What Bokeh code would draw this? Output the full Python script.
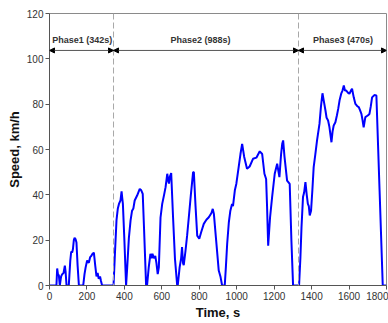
from bokeh.plotting import figure
from bokeh.models import Range1d, Span, Arrow, NormalHead, ColumnDataSource, FixedTicker
from bokeh.core.properties import value
from bokeh.embed import file_html
from bokeh.resources import INLINE

# ---- data ----
time_s = [0, 37, 41, 45, 50, 55, 62, 68, 75, 82, 86, 91, 98, 103, 111, 116, 121, 125, 130, 134,
          139, 144, 150, 157, 180, 187, 193, 201, 210, 217, 223, 230, 237, 244, 251, 257, 263,
          270, 275, 281, 342,
          350, 358, 365, 371, 379, 385, 388, 392, 400, 409,
          415, 424, 433, 441, 448, 455, 468, 482, 490, 498, 505, 516,
          521, 530, 539, 545, 550, 557, 565, 571, 578, 584, 593, 602, 612, 620, 629, 635, 638,
          643, 650, 660, 670, 682,
          685, 695, 703, 708, 713, 717, 726, 735, 744, 755, 767, 771, 780, 789, 800, 810, 824,
          838, 851, 865, 872, 878, 890, 904, 913, 922, 936, 942, 949, 958, 966, 975, 980, 990,
          998, 1010, 1020, 1029, 1040, 1055, 1069, 1087, 1105, 1123, 1136, 1148, 1157, 1162,
          1168, 1178, 1189, 1203, 1216, 1228, 1237, 1243, 1248, 1255, 1269, 1283, 1292, 1301,
          1333, 1340, 1346, 1354, 1360, 1367, 1374, 1380, 1385, 1390, 1397, 1404, 1411, 1420,
          1429, 1442, 1450, 1458, 1466, 1474, 1480, 1488, 1495, 1506, 1512, 1518, 1527, 1535,
          1542, 1550, 1558, 1565, 1572, 1578, 1585, 1595, 1602, 1610, 1616, 1625, 1634, 1645,
          1652, 1660, 1666, 1672, 1678, 1687, 1700, 1709, 1716, 1723, 1735, 1746, 1763, 1780,
          1800]
speed_kmh = [0, 0, 7.5, 5, 4.5, 0, 4, 5, 5.5, 8.8, 6, 0, 0, 0, 11, 15, 14.5, 16, 20, 21,
             20.5, 19, 9, 0, 0, 5, 8, 11, 10, 12.5, 13, 14, 14.5, 9, 4, 5.5, 3,
             4, 2, 0, 0,
             15, 29, 34, 36, 37.5, 41.5, 39, 36, 20, 0,
             8, 21, 28.7, 33, 34, 37.5, 39.7, 42.6, 42, 40.4, 25, 0,
             0, 8, 14, 12, 14, 12, 13, 10, 5, 8, 30, 36, 40, 43.4, 49.3, 46, 45,
             48, 49.6, 30, 12, 0,
             0, 8, 12, 17, 10, 9, 15, 22, 30, 40, 50, 50, 35, 22, 20.6, 23.5, 27.2,
             29, 30.1, 32, 33.8, 31.6, 20, 6.6, 4, 0, 0, 8, 18.4, 28, 33, 36, 35, 42,
             44.9, 52, 58, 62.5, 56.7, 51.5, 52.5, 55.9, 56.4, 59.2, 58, 49.3, 47, 35,
             17.6, 30, 39, 49.3, 53.7, 47.8, 58, 62.5, 64, 57, 46.3, 44.8, 20, 0,
             0, 12, 25.7, 39, 41, 45.6, 40, 36, 35, 30.9, 33, 42, 52.2, 58,
             64, 71.3, 79, 84.8, 81, 77.2, 74, 72.8, 70, 63.2, 68, 70.6, 72, 75,
             77.9, 82, 84.6, 86, 88.2, 86, 86, 85, 84.6, 86, 86.8, 83, 80.1, 79,
             78.7, 77, 75.7, 73, 69.8, 74.3, 75, 75.7, 79, 83, 84, 83.8, 42, 0,
             0]
phase_edges = [0, 342, 1330, 1800]
phase_labels = ["Phase1 (342s)", "Phase2 (988s)", "Phase3 (470s)"]
phase_label_x = [175, 806, 1568]
x_ticks = [0, 200, 400, 600, 800, 1000, 1200, 1400, 1600, 1800]
y_ticks = [0, 20, 40, 60, 80, 100, 120]

FONT = "Liberation Sans"

p = figure(width=388, height=323, output_backend="svg", toolbar_location=None,
           x_range=Range1d(0, 1800), y_range=Range1d(0, 120),
           min_border_left=49, min_border_right=2, min_border_top=13, min_border_bottom=38)
p.grid.visible = False
p.outline_line_color = "#8a8a8a"
p.outline_line_width = 1
p.background_fill_color = "white"
p.border_fill_color = "white"

# phase boundaries
for edge in phase_edges[1:-1]:
    p.add_layout(Span(location=edge, dimension="height", line_color="#a8a8a8",
                      line_dash="6 3", line_width=1))

# speed trace
p.line(time_s, speed_kmh, line_color="#0000ff", line_width=2)

# arrows for phases
arrow_y = 103.7
for i in range(len(phase_labels)):
    p.add_layout(Arrow(start=NormalHead(size=5, fill_color="black", line_color="black"),
                       end=NormalHead(size=5, fill_color="black", line_color="black"),
                       x_start=phase_edges[i], x_end=phase_edges[i + 1],
                       y_start=arrow_y, y_end=arrow_y, line_color="#555555", line_width=1))

src = ColumnDataSource(dict(x=phase_label_x, y=[108.3] * 3, t=phase_labels))
p.text(x="x", y="y", text="t", source=src, text_align="center", text_baseline="middle",
       text_font=value(FONT), text_font_size="9px", text_color="#333333", text_font_style="bold")

# axes
for ax in (p.xaxis, p.yaxis):
    ax.axis_line_color = "#555555"
    ax.major_tick_line_color = "#555555"
    ax.minor_tick_line_color = None
    ax.major_tick_in = 0
    ax.major_tick_out = 4
    ax.major_label_text_font = FONT
    ax.major_label_text_font_size = "10px"
    ax.major_label_text_color = "#333333"
    ax.axis_label_text_font = FONT
    ax.axis_label_text_font_size = "13px"
    ax.axis_label_text_font_style = "bold"
    ax.axis_label_text_color = "#111111"
    ax.major_label_standoff = 2
    ax.axis_label_standoff = 2

p.xaxis.major_label_standoff = 2
p.xaxis.axis_label_standoff = 2
p.xaxis.ticker = FixedTicker(ticks=x_ticks)
p.yaxis.ticker = FixedTicker(ticks=y_ticks)
p.xaxis.axis_label = "Time, s"
p.yaxis.axis_label = "Speed, km/h"

open("out.html", "w").write(file_html(p, INLINE))
